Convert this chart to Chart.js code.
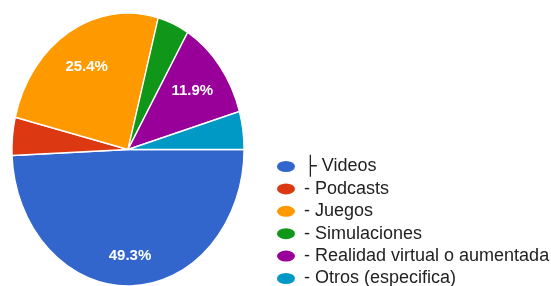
<!DOCTYPE html>
<html>
<head>
<meta charset="utf-8">
<script src="https://cdn.jsdelivr.net/npm/chart.js@4.4.0/dist/chart.umd.min.js"></script>
<style>
    html, body { margin: 0; padding: 0; background: #fff; }
    #chart { display: block; }
</style>
</head>
<body>
<canvas id="chart" width="551" height="286"></canvas>
<script>
// Chart data
const categories = ['├ Videos', '- Podcasts', '- Juegos', '- Simulaciones', '- Realidad virtual o aumentada', '- Otros (especifica)'];
const shares = [49.3, 4.5, 25.4, 4.4, 11.9, 4.5];
const sliceColors = ['#3366cc', '#dc3912', '#ff9900', '#109618', '#990099', '#0099c6'];

// The pie in the picture is a bit taller than wide
const PIE_X = 128, PIE_Y = 149.5, PIE_RX = 116, PIE_RY = 136.5;
const LEGEND_PAD = 4.4;

// Stretch the pie into place and write the percentages on it
const stretchPie = {
    id: 'stretchPie',
    beforeDatasetsDraw(chart) {
        const arc = chart.getDatasetMeta(0).data[0];
        const ctx = chart.ctx;
        ctx.save();
        ctx.translate(PIE_X, PIE_Y);
        ctx.scale(PIE_RX / arc.outerRadius, PIE_RY / arc.outerRadius);
        ctx.translate(-arc.x, -arc.y);
    },
    afterDatasetsDraw(chart) {
        const ctx = chart.ctx;
        ctx.restore();

        const meta = chart.getDatasetMeta(0);
        const total = shares.reduce((a, b) => a + b, 0);
        ctx.save();
        ctx.font = 'bold 15px "Liberation Sans", Arial, sans-serif';
        ctx.fillStyle = '#ffffff';
        ctx.textAlign = 'center';
        ctx.textBaseline = 'middle';
        meta.data.forEach((arc, i) => {
            const pct = shares[i] / total * 100;
            if (pct < 5) return; // small slices get no label
            const mid = (arc.startAngle + arc.endAngle) / 2;
            const f = pct > 40 ? 0.78 : 0.7;
            const x = PIE_X + Math.cos(mid) * PIE_RX * f;
            const y = PIE_Y + Math.sin(mid) * PIE_RY * f;
            ctx.fillText(pct.toFixed(1) + '%', x, y);
        });
        ctx.restore();
    }
};

// Put the legend in the lower right corner
const placeLegend = {
    id: 'placeLegend',
    afterLayout(chart) {
        const lg = chart.legend;
        lg.left = 277 - LEGEND_PAD;
        lg.right = 551;
        lg.width = lg.right - lg.left;
        lg.top = 157.5 - LEGEND_PAD;
        lg.bottom = 300;
        lg.height = lg.bottom - lg.top;
    }
};

document.addEventListener('DOMContentLoaded', () => {
    const ctx = document.getElementById('chart');

    new Chart(ctx, {
        type: 'pie',
        data: {
            labels: categories,
            datasets: [{
                data: shares,
                backgroundColor: sliceColors,
                borderColor: '#ffffff',
                borderWidth: 1.5,
                clip: false
            }]
        },
        options: {
            responsive: false,
            animation: false,
            rotation: 90,
            plugins: {
                legend: {
                    position: 'right',
                    align: 'start',
                    labels: {
                        usePointStyle: true,
                        pointStyle: 'circle',
                        pointStyleWidth: 18,
                        boxHeight: 7.8,
                        padding: LEGEND_PAD,
                        color: '#222222',
                        font: { family: '"Liberation Sans", Arial, sans-serif', size: 18 },
                        generateLabels(chart) {
                            const items = Chart.overrides.pie.plugins.legend.labels.generateLabels(chart);
                            items.forEach(item => { item.lineWidth = 0; });
                            return items;
                        }
                    }
                },
                tooltip: { enabled: false }
            }
        },
        plugins: [stretchPie, placeLegend]
    });
});
</script>
</body>
</html>
